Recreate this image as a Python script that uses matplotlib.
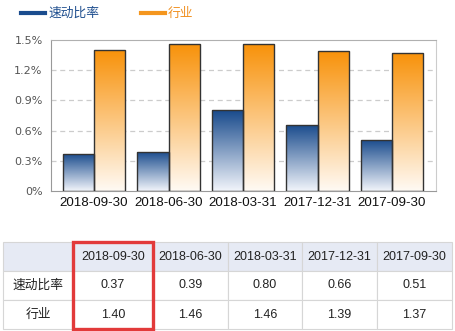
import matplotlib
matplotlib.use("Agg")
import matplotlib.pyplot as plt
from matplotlib.colors import LinearSegmentedColormap
from matplotlib.patches import Rectangle
import numpy as np

plt.rcParams['font.family'] = ['Liberation Sans', 'Noto Sans CJK SC', 'DejaVu Sans']

# data
dates = ['2018-09-30', '2018-06-30', '2018-03-31', '2017-12-31', '2017-09-30']
quick_ratio = [0.37, 0.39, 0.80, 0.66, 0.51]
industry = [1.40, 1.46, 1.46, 1.39, 1.37]
series_names = ['速动比率', '行业']
y_ticks = [0, 0.3, 0.6, 0.9, 1.2, 1.5]

blue_top, blue_bottom = '#184a8c', '#f2f5fb'
orange_top, orange_bottom = '#f8920a', '#fffaf4'


def gradient_bars(ax, x, vals, width, top, bottom):
    cmap = LinearSegmentedColormap.from_list('g', [bottom, top])
    grad = np.linspace(0, 1, 256).reshape(-1, 1)
    bars = ax.bar(x, vals, width, facecolor='none', edgecolor='#333333',
                  linewidth=1.0, zorder=3)
    for p in bars.patches:
        x0, w, h = p.get_x(), p.get_width(), p.get_height()
        im = ax.imshow(grad, cmap=cmap, origin='lower', aspect='auto',
                       extent=[x0, x0 + w, 0, h], zorder=2,
                       interpolation='bicubic')
        im.set_clip_path(p)
    return bars


fig = plt.figure(figsize=(4.55, 3.31), dpi=100)
W, H = 455, 331

# chart
ax = fig.add_axes([51 / W, 140 / H, 385 / W, 151 / H])
x = np.arange(len(dates))
bw = 0.42
gradient_bars(ax, x - bw / 2, quick_ratio, bw, blue_top, blue_bottom)
gradient_bars(ax, x + bw / 2, industry, bw, orange_top, orange_bottom)
ax.set_xlim(-0.577, 4.59)
ax.set_ylim(0, 1.5)
ax.set_yticks(y_ticks)
ax.set_yticklabels(['{:g}%'.format(v) for v in y_ticks], family='DejaVu Sans',
                   fontsize=8, color='#555555')
ax.set_xticks(x)
ax.set_xticklabels(dates, fontsize=9.6, color='#111111')
ax.tick_params(length=0, pad=4)
ax.tick_params(axis='y', pad=6)
for v in y_ticks[1:-1]:
    ax.axhline(v, color='#cccccc', lw=0.9, ls=(0, (4, 3)), zorder=1)
ax.spines['left'].set_color('#999999')
ax.spines['bottom'].set_color('#999999')
ax.spines['top'].set_color('#b0b0b0')
ax.spines['right'].set_color('#cccccc')

# legend
fig.lines.append(plt.Line2D([21 / W, 45 / W], [1 - 13 / H] * 2, color='#1a4c8e',
                            lw=3, transform=fig.transFigure))
fig.text(48 / W, 1 - 13 / H, series_names[0], color='#1f4f8f', fontsize=9.2,
         family='Noto Sans CJK SC', va='center')
fig.lines.append(plt.Line2D([141 / W, 165 / W], [1 - 13 / H] * 2, color='#f4961e',
                            lw=3, transform=fig.transFigure))
fig.text(168 / W, 1 - 13 / H, series_names[1], color='#f09020', fontsize=9.2,
         family='Noto Sans CJK SC', va='center')

# table
tax = fig.add_axes([3 / W, 2 / H, 449 / W, 87 / H])
tax.axis('off')
col_px = [70, 80, 75, 74, 75, 75]
col_w = [c / sum(col_px) for c in col_px]
cells = [[''] + dates,
         [series_names[0]] + ['{:.2f}'.format(v) for v in quick_ratio],
         [series_names[1]] + ['{:.2f}'.format(v) for v in industry]]
tbl = tax.table(cellText=cells, colWidths=col_w, bbox=[0, 0, 1, 1],
                cellLoc='center')
tbl.auto_set_font_size(False)
for (r, c), cell in tbl.get_celld().items():
    cell.set_edgecolor('#d6d6d6')
    cell.set_linewidth(0.8)
    t = cell.get_text()
    t.set_color('#222222')
    t.set_fontsize(9)
    if r == 0:
        cell.set_facecolor('#e6eaf4')
    if c == 0:
        t.set_family('Noto Sans CJK SC')
        t.set_fontsize(9.2)

x0 = col_w[0]
tax.add_patch(Rectangle((x0, 0.005), col_w[1], 0.99, fill=False,
                        edgecolor='#e23a3a', lw=2.4, transform=tax.transAxes,
                        clip_on=False, zorder=5))

fig.savefig('out.png', dpi=100)
